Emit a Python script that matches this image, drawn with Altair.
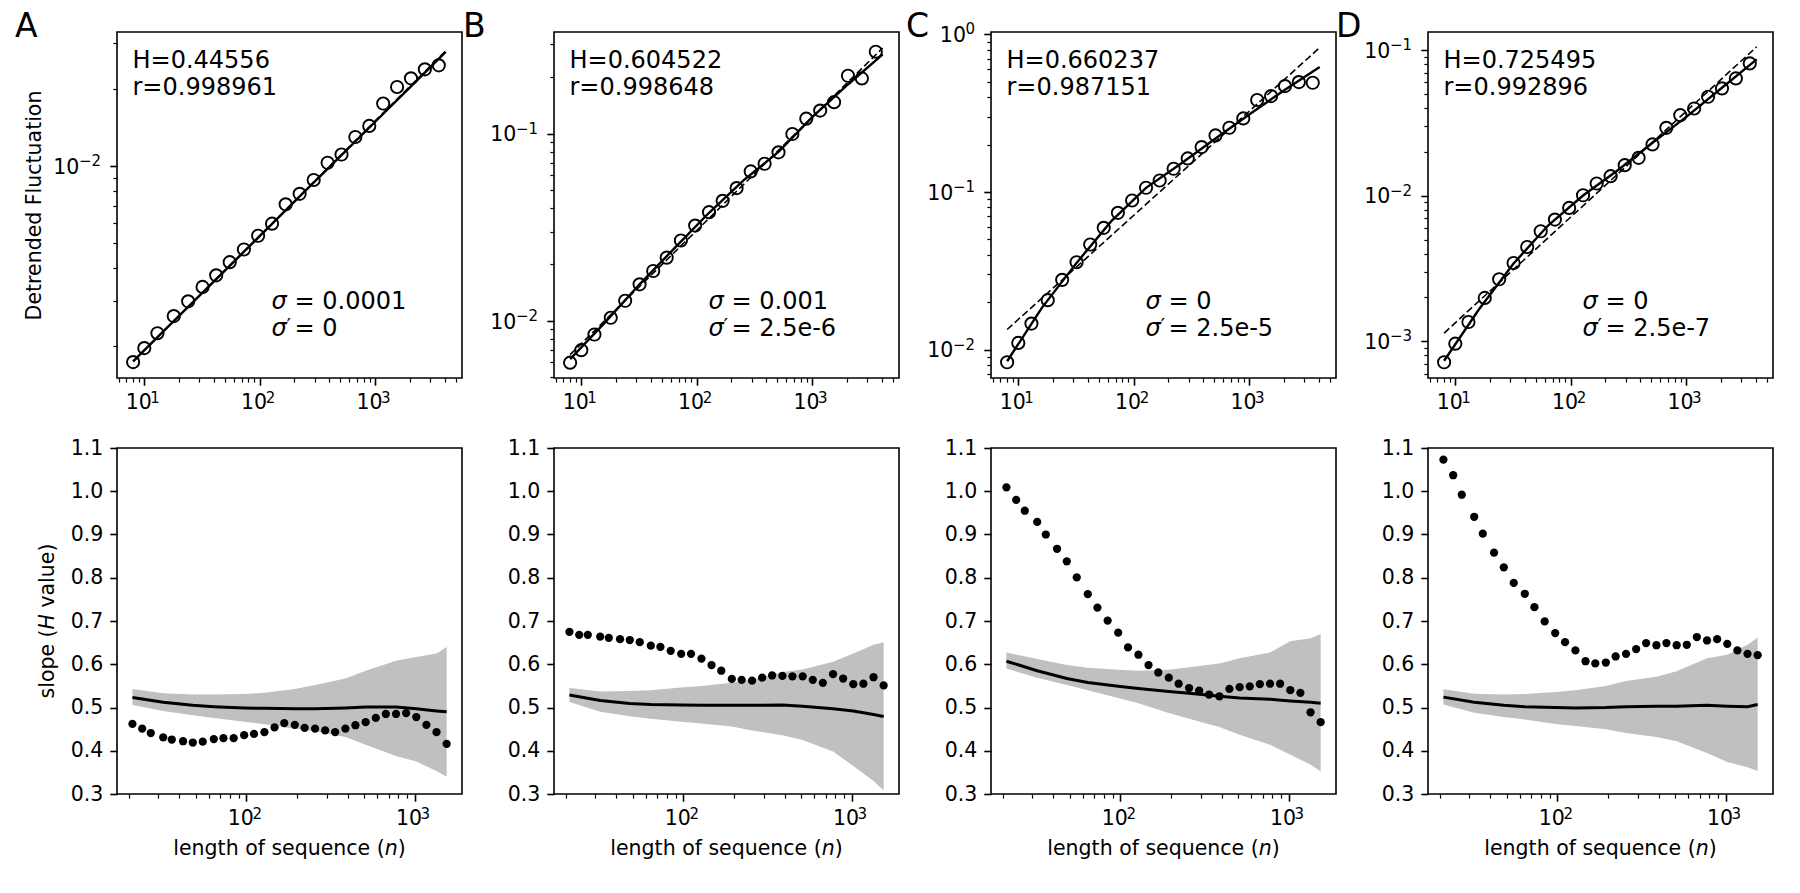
import math
import altair as alt
import pandas as pd

FONT = "DejaVu Sans"
W, H = 345, 346
GREY = "#c0c0c0"
TICK_FS = 20.5
EXP_FS = 15
NOTE_FS = 24

# window sizes of the fluctuation analysis (top row) and of the sliding slope (bottom row)
N_TOP = [8, 10, 13, 18, 24, 32, 42, 55, 73, 97, 128, 168, 222, 294, 388, 512, 675, 891, 1176, 1552, 2048, 2702, 3566]
N_BOT = [21, 24, 27, 32, 36, 42, 48, 55, 64, 73, 84, 97, 111, 128, 147, 168, 194, 222, 256, 294, 337,
         388, 445, 512, 588, 675, 776, 891, 1024, 1176, 1351, 1552]
N_CURVE = [8, 16, 32, 64, 128, 256, 512, 1024, 2048, 4096]
N_BAND = [21, 32, 48, 64, 97, 128, 194, 256, 388, 512, 776, 1024, 1351, 1552]
N_FIT = [8, 4096]

PANELS = ["A", "B", "C", "D"]
H_VALUES = [0.44556, 0.604522, 0.660237, 0.725495]
R_VALUES = ["0.998961", "0.998648", "0.987151", "0.992896"]
SIGMA = ["0.0001", "0.001", "0", "0"]
SIGMA_PRIME = ["0", "2.5e-6", "2.5e-5", "2.5e-7"]

# detrended fluctuation F(n)
F_A = [0.00173, 0.00196, 0.00224, 0.00261, 0.00298, 0.00339, 0.00376, 0.00423, 0.00474, 0.00536, 0.00597,
       0.00710, 0.00780, 0.00883, 0.01030, 0.01109, 0.01297, 0.01432, 0.01750, 0.02030, 0.02193, 0.02377, 0.02464]
F_B = [0.00598, 0.00697, 0.00845, 0.01038, 0.01280, 0.01566, 0.01846, 0.02175, 0.02685, 0.03228, 0.03805,
       0.04375, 0.05117, 0.06285, 0.06905, 0.07943, 0.09954, 0.1202, 0.1327, 0.1472, 0.2037, 0.1972, 0.2739]
F_C = [0.00831, 0.01102, 0.01462, 0.02057, 0.02768, 0.03583, 0.04642, 0.05918, 0.07373, 0.08831, 0.1063,
       0.1183, 0.1403, 0.1632, 0.1927, 0.2285, 0.2555, 0.2930, 0.3831, 0.4058, 0.4698, 0.4977, 0.4933]
F_D = [0.000718, 0.000964, 0.001358, 0.001986, 0.002667, 0.003452, 0.004446, 0.005700, 0.006855, 0.008241,
       0.01007, 0.01213, 0.01361, 0.01621, 0.01820, 0.02248, 0.02924, 0.03573, 0.03971, 0.04775, 0.05454,
       0.06383, 0.08091]

# smooth trend through F(n)
CURVE_A = [0.00174, 0.00237, 0.00322, 0.00438, 0.00596, 0.00811, 0.01103, 0.01500, 0.02040, 0.02780]
CURVE_B = [0.00624, 0.00979, 0.01567, 0.02440, 0.03777, 0.05649, 0.07979, 0.1239, 0.1830, 0.2649]
CURVE_C = [0.00843, 0.01840, 0.03548, 0.06531, 0.1062, 0.1510, 0.2186, 0.3134, 0.4454, 0.6207]
CURVE_D = [0.000736, 0.001652, 0.00342, 0.006266, 0.01002, 0.01496, 0.02307, 0.03516, 0.05508, 0.0862]

# power-law fit F = c * n^H, anchored at n = 8
FIT_AT_8 = [0.00174, 0.0066, 0.0134, 0.00114]

# local slope of log F against log n
S_A = [0.462, 0.451, 0.441, 0.431, 0.426, 0.422, 0.419, 0.421, 0.427, 0.429, 0.429, 0.436, 0.439, 0.443, 0.454,
       0.464, 0.460, 0.453, 0.451, 0.447, 0.443, 0.451, 0.459, 0.466, 0.476, 0.485, 0.485, 0.487, 0.478, 0.460,
       0.443, 0.416]
S_B = [0.675, 0.668, 0.668, 0.664, 0.661, 0.658, 0.656, 0.651, 0.643, 0.640, 0.631, 0.624, 0.624, 0.613, 0.598,
       0.585, 0.566, 0.564, 0.562, 0.569, 0.574, 0.573, 0.572, 0.572, 0.564, 0.557, 0.577, 0.567, 0.554, 0.555,
       0.570, 0.551]
S_C = [1.009, 0.980, 0.955, 0.929, 0.900, 0.867, 0.838, 0.801, 0.762, 0.731, 0.701, 0.673, 0.639, 0.622, 0.598,
       0.581, 0.569, 0.555, 0.545, 0.539, 0.530, 0.526, 0.543, 0.547, 0.549, 0.554, 0.555, 0.555, 0.540, 0.534,
       0.489, 0.466]
S_D = [1.073, 1.037, 0.992, 0.941, 0.902, 0.858, 0.824, 0.788, 0.763, 0.732, 0.699, 0.672, 0.651, 0.632, 0.607,
       0.602, 0.604, 0.618, 0.624, 0.635, 0.649, 0.644, 0.649, 0.644, 0.645, 0.663, 0.655, 0.658, 0.647, 0.632,
       0.624, 0.621]

# surrogate ensemble: mean slope and spread
MEAN_A = [0.523, 0.512, 0.505, 0.502, 0.499, 0.498, 0.497, 0.497, 0.499, 0.501, 0.501, 0.497, 0.492, 0.490]
UP_A = [0.543, 0.533, 0.530, 0.530, 0.531, 0.534, 0.543, 0.552, 0.567, 0.585, 0.608, 0.617, 0.625, 0.640]
LO_A = [0.506, 0.492, 0.482, 0.476, 0.467, 0.461, 0.451, 0.445, 0.432, 0.414, 0.388, 0.375, 0.353, 0.340]
MEAN_B = [0.529, 0.516, 0.509, 0.507, 0.506, 0.505, 0.505, 0.505, 0.506, 0.503, 0.497, 0.492, 0.484, 0.479]
UP_B = [0.545, 0.537, 0.538, 0.540, 0.546, 0.550, 0.557, 0.565, 0.582, 0.588, 0.606, 0.625, 0.645, 0.651]
LO_B = [0.513, 0.490, 0.480, 0.474, 0.467, 0.463, 0.456, 0.447, 0.436, 0.425, 0.398, 0.365, 0.330, 0.308]
MEAN_C = [0.607, 0.585, 0.567, 0.558, 0.549, 0.544, 0.537, 0.533, 0.526, 0.522, 0.519, 0.515, 0.512, 0.510]
UP_C = [0.627, 0.612, 0.598, 0.592, 0.587, 0.585, 0.587, 0.593, 0.602, 0.614, 0.627, 0.653, 0.660, 0.670]
LO_C = [0.590, 0.569, 0.552, 0.540, 0.522, 0.510, 0.487, 0.474, 0.455, 0.437, 0.414, 0.391, 0.368, 0.352]
MEAN_D = [0.524, 0.512, 0.505, 0.502, 0.500, 0.499, 0.500, 0.502, 0.503, 0.503, 0.505, 0.503, 0.502, 0.507]
UP_D = [0.542, 0.532, 0.530, 0.531, 0.536, 0.540, 0.550, 0.561, 0.571, 0.584, 0.614, 0.622, 0.645, 0.662]
LO_D = [0.507, 0.488, 0.478, 0.472, 0.462, 0.457, 0.450, 0.441, 0.432, 0.422, 0.395, 0.374, 0.362, 0.353]

F_ALL = [F_A, F_B, F_C, F_D]
CURVES = [CURVE_A, CURVE_B, CURVE_C, CURVE_D]
S_ALL = [S_A, S_B, S_C, S_D]
MEANS = [MEAN_A, MEAN_B, MEAN_C, MEAN_D]
UPS = [UP_A, UP_B, UP_C, UP_D]
LOS = [LO_A, LO_B, LO_C, LO_D]

X_TOP = [5.8, 5670]
X_BOT = [17.0, 1915]
X_TOP_MAJOR = [10, 100, 1000]
X_BOT_MAJOR = [100, 1000]
Y_TOP = [[0.0015, 0.0332], [0.00495, 0.349], [0.0066, 1.035], [0.00056, 0.133]]
Y_TOP_MAJOR = [[0.01], [0.01, 0.1], [0.01, 0.1, 1], [0.001, 0.01, 0.1]]
Y_BOT = [0.3, 1.1]
Y_BOT_TICKS = [0.3, 0.4, 0.5, 0.6, 0.7, 0.8, 0.9, 1.0, 1.1]

LETTER_DX = [-102, -91, -85, -92]


def log_minor(lo, hi):
    ticks = []
    e = math.floor(math.log10(lo))
    while 10 ** e <= hi:
        for k in range(2, 10):
            v = k * 10 ** e
            if lo <= v <= hi:
                ticks.append(float(f"{v:.6g}"))
        e += 1
    return ticks


def exponent(v):
    return str(round(math.log10(v))).replace("-", "\u2212")


def major_axis(orient, values, labels=True, fmt=None, **extra):
    kw = dict(orient=orient, values=values, tickSize=7.2, tickWidth=1.6, tickColor="black",
              domain=False, grid=False, labels=labels, labelFont=FONT, labelFontSize=TICK_FS,
              labelColor="black", labelPadding=7, title=None)
    if fmt is not None:
        kw["format"] = fmt
    kw.update(extra)
    return alt.Axis(**kw)


def minor_axis(orient, values):
    return alt.Axis(orient=orient, values=values, tickSize=4.1, tickWidth=1.2, tickColor="black",
                    labels=False, domain=False, grid=False, title=None)


def text_props(size, align, style="normal", angle=0, dx=0, dy=0):
    return dict(align=align, baseline="alphabetic", font=FONT, fontSize=size, fontStyle=style,
                angle=angle, dx=dx, dy=dy, color="black")


def note(text, x, y, size=NOTE_FS, align="left", style="normal", angle=0):
    return alt.Chart(pd.DataFrame({"t": [text]})).mark_text(
        **text_props(size, align, style, angle)
    ).encode(x=alt.value(x), y=alt.value(y), text="t:N")


def x_power_labels(values, xs):
    # "10" with a raised exponent under each major tick of a log x axis
    df = pd.DataFrame({"v": values, "base": ["10"] * len(values), "exp": [exponent(v) for v in values]})
    base = alt.Chart(df).mark_text(**text_props(TICK_FS, "right", dx=7.5)).encode(
        x=alt.X("v:Q", scale=xs, axis=None), y=alt.value(H + 31), text="base:N")
    sup = alt.Chart(df).mark_text(**text_props(EXP_FS, "left", dx=6)).encode(
        x=alt.X("v:Q", scale=xs, axis=None), y=alt.value(H + 24.7), text="exp:N")
    return [base, sup]


def y_power_labels(values, ys):
    # "10" with a raised exponent beside each major tick of a log y axis
    layers = []
    for v in values:
        e = exponent(v)
        exp_w = EXP_FS * (0.838 * e.count("\u2212") + 0.636 * (len(e) - e.count("\u2212")))
        df = pd.DataFrame({"v": [v], "base": ["10"], "exp": [e]})
        layers.append(alt.Chart(df).mark_text(**text_props(TICK_FS, "right", dy=7.7)).encode(
            x=alt.value(-16 - exp_w + 0.5), y=alt.Y("v:Q", scale=ys, axis=None), text="base:N"))
        layers.append(alt.Chart(df).mark_text(**text_props(EXP_FS, "right")).encode(
            x=alt.value(-16), y=alt.Y("v:Q", scale=ys, axis=None), text="exp:N"))
    return layers


def top_panel(i):
    xs = alt.Scale(type="log", domain=X_TOP, nice=False)
    ys = alt.Scale(type="log", domain=Y_TOP[i], nice=False)
    pts = pd.DataFrame({"n": N_TOP, "F": F_ALL[i]})
    curve = pd.DataFrame({"n": N_CURVE, "F": CURVES[i]})
    fit = pd.DataFrame({"n": N_FIT,
                        "F": [FIT_AT_8[i] * (n / N_FIT[0]) ** H_VALUES[i] for n in N_FIT]})

    y_extra = {}
    if i == 0:
        y_extra = dict(title="Detrended Fluctuation", titleFont=FONT, titleFontSize=TICK_FS,
                       titleFontWeight="normal", titleColor="black", titleX=-76.5, titleY=H / 2,
                       titleAngle=270, titleAlign="center", titleBaseline="alphabetic")

    dashed = alt.Chart(fit).mark_line(color="black", strokeWidth=1.6, strokeDash=[7, 3.3]).encode(
        x=alt.X("n:Q", scale=xs, axis=minor_axis("bottom", log_minor(*X_TOP))),
        y=alt.Y("F:Q", scale=ys, axis=minor_axis("left", log_minor(*Y_TOP[i]))),
    )
    solid = alt.Chart(curve).mark_line(color="black", strokeWidth=2.4).encode(
        x=alt.X("n:Q", scale=xs, axis=None),
        y=alt.Y("F:Q", scale=ys, axis=None),
    )
    circles = alt.Chart(pts).mark_point(shape="circle", filled=False, size=150, strokeWidth=1.9,
                                        color="black", opacity=1).encode(
        x=alt.X("n:Q", scale=xs, axis=major_axis("bottom", X_TOP_MAJOR, labels=False)),
        y=alt.Y("F:Q", scale=ys, axis=major_axis("left", Y_TOP_MAJOR[i], labels=False, **y_extra)),
    )
    layers = [dashed, solid, circles]
    layers += x_power_labels(X_TOP_MAJOR, xs)
    layers += y_power_labels(Y_TOP_MAJOR[i], ys)
    layers += [note(f"H={H_VALUES[i]}", 15.5, 36),
               note(f"r={R_VALUES[i]}", 15.5, 63.3),
               note("σ", 154.5, 277.3, style="italic"),
               note(f"= {SIGMA[i]}", 177.5, 277.3),
               note("σ", 154.5, 304, style="italic"),
               note("′", 169.5, 300, size=20),
               note(f"= {SIGMA_PRIME[i]}", 177.5, 304),
               note(PANELS[i], LETTER_DX[i], 5, size=33)]
    if i == 0:
        # keeps the outer margin of the figure fixed
        layers.append(alt.Chart(pd.DataFrame({"t": [0]})).mark_rule(opacity=0).encode(
            x=alt.value(-116), x2=alt.value(-110), y=alt.value(-31)))
    return alt.layer(*layers).resolve_axis(x="independent", y="independent").properties(width=W, height=H)


def bottom_panel(i):
    xs = alt.Scale(type="log", domain=X_BOT, nice=False)
    ys = alt.Scale(domain=Y_BOT, nice=False, zero=False)
    band = pd.DataFrame({"n": N_BAND, "lo": LOS[i], "hi": UPS[i], "mean": MEANS[i]})
    dots = pd.DataFrame({"n": N_BOT, "s": S_ALL[i]})

    area = alt.Chart(band).mark_area(color=GREY, opacity=1).encode(
        x=alt.X("n:Q", scale=xs, axis=minor_axis("bottom", log_minor(*X_BOT))),
        y=alt.Y("lo:Q", scale=ys, axis=None),
        y2="hi:Q",
    )
    mean = alt.Chart(band).mark_line(color="black", strokeWidth=3).encode(
        x=alt.X("n:Q", scale=xs, axis=None),
        y=alt.Y("mean:Q", scale=ys, axis=None),
    )
    pts = alt.Chart(dots).mark_point(shape="circle", filled=True, size=68, color="black", opacity=1).encode(
        x=alt.X("n:Q", scale=xs, axis=major_axis("bottom", X_BOT_MAJOR, labels=False)),
        y=alt.Y("s:Q", scale=ys, axis=major_axis("left", Y_BOT_TICKS, fmt=".1f")),
    )
    layers = [area, mean, pts]
    layers += x_power_labels(X_BOT_MAJOR, xs)
    layers += [note("length of sequence (", 56.3, 407, size=TICK_FS),
               note("n", 267.8, 407, size=TICK_FS, style="italic"),
               note(")", 280.8, 407, size=TICK_FS)]
    if i == 0:
        layers += [note("slope (", -62.7, 250.5, size=TICK_FS, angle=270),
                   note("H", -62.7, 181.5, size=TICK_FS, style="italic", angle=270),
                   note("value)", -62.7, 159.6, size=TICK_FS, angle=270)]
    return alt.layer(*layers).resolve_axis(x="independent", y="independent").properties(width=W, height=H)


panels = [top_panel(i) for i in range(4)] + [bottom_panel(i) for i in range(4)]

chart = alt.concat(*panels, columns=4, spacing={"row": 70, "column": 92}, bounds="flush").properties(
    padding=0
).configure(font=FONT).configure_view(stroke="black", strokeWidth=1.6)

chart.save("out.html", embed_options={"renderer": "svg", "actions": False})
